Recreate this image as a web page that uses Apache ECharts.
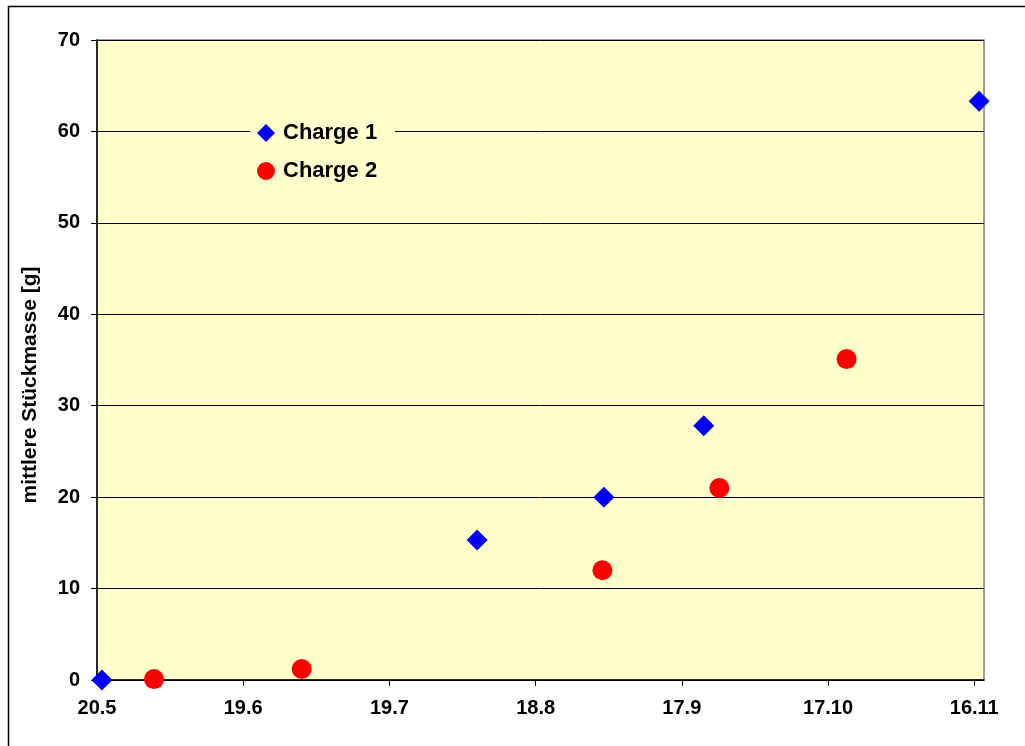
<!DOCTYPE html>
<html>
<head>
<meta charset="utf-8">
<script src="https://cdn.jsdelivr.net/npm/echarts@6/dist/echarts.min.js"></script>
<style>html,body{margin:0;padding:0;background:#fff}#c{width:1025px;height:746px}</style>
</head>
<body>
<div id="c"></div>
<script>
// x = days after 20.5
const tickLabels = ['20.5', '19.6', '19.7', '18.8', '17.9', '17.10', '16.11'];
const tickDays = [0, 30, 60, 90, 120, 150, 180];
const charge1X = [1, 78, 104, 124.5, 181];
const charge1Y = [0, 15.3, 20.0, 27.8, 63.3];
const charge2X = [11.7, 42, 103.7, 127.7, 153.8];
const charge2Y = [0.1, 1.2, 12.0, 21.0, 35.1];
const seriesNames = ['Charge 1', 'Charge 2'];
const yTitle = 'mittlere Stückmasse [g]';

const font = "'Liberation Sans', Arial, sans-serif";
const chart = echarts.init(document.getElementById('c'));
chart.setOption({
  animation: false,
  backgroundColor: '#fff',
  graphic: [{
    type: 'rect', left: 6, top: 4, z: -10,
    shape: { width: 1040, height: 760 },
    style: { fill: 'none', stroke: '#000', lineWidth: 1.5 }
  }, {
    type: 'text', x: 30, y: 385, rotation: Math.PI / 2,
    style: {
      text: yTitle, fill: '#000', font: "bold 21px 'Liberation Sans', Arial, sans-serif",
      textAlign: 'center', textVerticalAlign: 'middle'
    }
  }],
  grid: {
    left: 97, right: 41, top: 40, bottom: 66,
    show: true, backgroundColor: '#FFFFCC', borderColor: '#808080', borderWidth: 1.5
  },
  legend: {
    orient: 'vertical', left: 250, top: 117,
    backgroundColor: '#FFFFCC', padding: [5, 18, 5, 7],
    itemGap: 16, itemWidth: 18, itemHeight: 18,
    textStyle: { fontFamily: font, fontWeight: 'bold', fontSize: 22, color: '#000', padding: [0, 0, 0, 3] },
    data: seriesNames
  },
  xAxis: {
    type: 'value', min: 0, max: 182, interval: 30,
    splitLine: { show: false },
    axisLine: { lineStyle: { color: '#000', width: 1.5 } },
    axisTick: { show: true, length: 6, customValues: tickDays, lineStyle: { color: '#000' } },
    axisLabel: {
      customValues: tickDays, margin: 18,
      fontFamily: font, fontWeight: 'bold', fontSize: 20, color: '#000',
      formatter: v => tickLabels[tickDays.indexOf(v)] || ''
    }
  },
  yAxis: {
    type: 'value', min: 0, max: 70, interval: 10,
    axisLine: { show: true, lineStyle: { color: '#000', width: 1.5 } },
    axisTick: { show: true, length: 6, lineStyle: { color: '#000' } },
    splitLine: { lineStyle: { color: '#000', width: 1 } },
    axisLabel: { margin: 17, fontFamily: font, fontWeight: 'bold', fontSize: 20, color: '#000' }
  },
  series: [
    {
      name: seriesNames[0], type: 'scatter', symbol: 'diamond', symbolSize: 21, clip: false,
      itemStyle: { color: '#0000FF', opacity: 1 },
      data: charge1X.map((x, i) => [x, charge1Y[i]])
    },
    {
      name: seriesNames[1], type: 'scatter', symbol: 'circle', symbolSize: 20, clip: false,
      itemStyle: { color: '#FF0000', opacity: 1 },
      data: charge2X.map((x, i) => [x, charge2Y[i]])
    }
  ]
});
</script>
</body>
</html>
